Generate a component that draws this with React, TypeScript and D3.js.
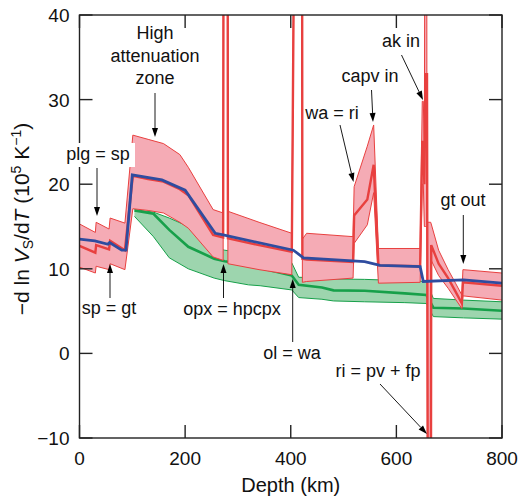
import React from 'react';
import * as d3 from 'd3';

const W = 531;
const H = 498;
const PL = 79.5, PR = 502, PT = 15, PB = 438;

// Red band (with phase-transition spikes): depth, upper, centre, lower
const redDepth  = [0, 30, 31.5, 56, 58, 86, 101, 130, 159, 190, 206, 253, 272, 273.5, 280, 281, 340, 402, 411, 421, 422, 430, 518, 520, 545, 557, 566, 645, 649, 651, 653, 655, 657, 658, 660, 665, 666, 680, 698, 712, 724, 726, 800];
const redUpper  = [15.3, 14.3, 15.5, 14.7, 16.0, 15.4, 25.8, 25.3, 24.8, 23.5, 22.0, 17.0, 16.6, 90, 90, 16.8, 15.5, 14.2, 90, 90, 13.5, 14.2, 13.8, 19.7, 24.5, 27.0, 12.4, 12.4, 29.8, 29.8, 24, 90, 90, 15.5, 15.5, 15.5, 15.3, 12.2, 9.9, 8.3, 6.9, 9.9, 9.5];
const redCenter = [12.7, 11.9, 12.8, 12.3, 13.3, 12.2, 21.0, 20.6, 20.3, 19.4, 18.7, 14.0, 13.7, 90, 90, 13.6, 12.8, 12.0, 90, 90, 11.2, 11.1, 10.8, 16.3, 18.2, 22.3, 10.4, 10.3, 25, 25, 20, 33, 33, 33, -40, -40, 12.8, 10.6, 8.9, 7.3, 5.9, 8.4, 8.0];
const redLower  = [10.2, 9.5, 10.3, 9.9, 10.6, 9.9, 17.1, 16.9, 16.6, 15.5, 14.8, 11.4, 11.0, 90, 90, 10.6, 9.9, 9.3, 90, 90, 8.4, 8.5, 8.9, 13.0, 15.2, 19.0, 8.3, 8.4, 20, 20, 15, 15, 15, 15, -40, -40, 11.0, 9.2, 7.7, 6.4, 5.3, 6.8, 6.3];

// Green band: depth, upper, centre, lower
const greenDepth  = [104, 140, 170, 206, 255, 275, 320, 342, 402, 415, 459, 481, 540, 616, 657, 670, 727, 800];
const greenUpper  = [17.0, 16.7, 16.0, 15.0, 12.5, 12.2, 11.8, 11.5, 10.7, 9.0, 8.9, 8.8, 8.75, 8.6, 8.5, 6.5, 6.3, 6.1];
const greenCenter = [16.9, 16.5, 14.6, 12.6, 11.2, 10.9, 10.45, 10.1, 9.2, 8.1, 7.8, 7.45, 7.4, 7.1, 6.9, 5.4, 5.3, 5.05];
const greenLower  = [16.2, 13.8, 11.3, 10.0, 8.9, 8.6, 8.1, 8.0, 7.5, 6.6, 6.4, 6.2, 6.1, 6.0, 5.9, 4.35, 4.2, 4.05];

// Blue line
const blueDepth = [0, 29, 54, 57, 80, 88, 100, 156, 200, 257, 272, 405, 424, 540, 569, 645, 651, 727, 800];
const blueValue = [13.5, 13.3, 12.9, 13.1, 12.2, 12.2, 21.1, 20.5, 19.3, 14.2, 14.0, 12.2, 11.3, 10.85, 10.4, 10.25, 8.5, 8.7, 8.3];

const xTicks = [0, 200, 400, 600, 800];
const yTicks = [-10, 0, 10, 20, 30, 40];

const RED = '#e8403f';
const PINK = '#f5abb5';
const BLUE = '#2f4c9f';
const GREEN = '#17a04a';
const GREENFILL = '#9dd5ae';
const FONT = 'Liberation Sans, Arial, Helvetica, sans-serif';

function Arrow({ x1, y1, x2, y2 }: { x1: number; y1: number; x2: number; y2: number }) {
  const ang = Math.atan2(y2 - y1, x2 - x1);
  const L = 9, Wd = 3;
  const bx = x2 - L * Math.cos(ang), by = y2 - L * Math.sin(ang);
  const px = -Math.sin(ang) * Wd, py = Math.cos(ang) * Wd;
  return (
    <g>
      <line x1={x1} y1={y1} x2={bx} y2={by} stroke="#000" strokeWidth={0.9} />
      <polygon points={`${x2},${y2} ${bx + px},${by + py} ${bx - px},${by - py}`} fill="#000" />
    </g>
  );
}

export default function App() {
  const x = d3.scaleLinear().domain([0, 800]).range([PL, PR]);
  const y = d3.scaleLinear().domain([-10, 40]).range([PB, PT]);

  const redIdx = redDepth.map((_, i) => i);
  const redArea = d3.area<number>().x(i => x(redDepth[i])).y0(i => y(redLower[i])).y1(i => y(redUpper[i]))(redIdx) || '';
  const redUp = d3.line<number>().x(i => x(redDepth[i])).y(i => y(redUpper[i]))(redIdx) || '';
  const redLo = d3.line<number>().x(i => x(redDepth[i])).y(i => y(redLower[i]))(redIdx) || '';
  const redMid = d3.line<number>().x(i => x(redDepth[i])).y(i => y(redCenter[i]))(redIdx) || '';

  const gIdx = greenDepth.map((_, i) => i);
  const gArea = d3.area<number>().x(i => x(greenDepth[i])).y0(i => y(greenLower[i])).y1(i => y(greenUpper[i]))(gIdx) || '';
  const gUp = d3.line<number>().x(i => x(greenDepth[i])).y(i => y(greenUpper[i]))(gIdx) || '';
  const gLo = d3.line<number>().x(i => x(greenDepth[i])).y(i => y(greenLower[i]))(gIdx) || '';
  const gMid = d3.line<number>().x(i => x(greenDepth[i])).y(i => y(greenCenter[i]))(gIdx) || '';

  const bIdx = blueDepth.map((_, i) => i);
  const bLine = d3.line<number>().x(i => x(blueDepth[i])).y(i => y(blueValue[i]))(bIdx) || '';

  const tl = 13;
  const ann = { fontFamily: FONT, fontSize: 18, fill: '#111' } as const;

  return (
    <svg width={W} height={H} style={{ position: 'absolute', left: 0, top: 0, background: '#fff' }}>
      <defs>
        <clipPath id="plot">
          <rect x={PL} y={PT} width={PR - PL} height={PB - PT} />
        </clipPath>
      </defs>
      <g clipPath="url(#plot)">
        <path d={gArea} fill={GREENFILL} />
        <path d={gUp} fill="none" stroke={GREEN} strokeWidth={1} />
        <path d={gLo} fill="none" stroke={GREEN} strokeWidth={1} />
        <path d={gMid} fill="none" stroke={GREEN} strokeWidth={2.6} />
        <path d={redArea} fill={PINK} />
        <path d={redUp} fill="none" stroke={RED} strokeWidth={1} />
        <path d={redLo} fill="none" stroke={RED} strokeWidth={1} />
        <path d={redMid} fill="none" stroke={RED} strokeWidth={2.4} />
        <path d={bLine} fill="none" stroke={BLUE} strokeWidth={2.8} />
      </g>

      {/* frame */}
      <rect x={PL} y={PT} width={PR - PL} height={PB - PT} fill="none" stroke="#222" strokeWidth={1.4} />
      {xTicks.map(t => (
        <g key={'x' + t}>
          <line x1={x(t)} x2={x(t)} y1={PB} y2={PB - tl} stroke="#222" strokeWidth={1.4} />
          <line x1={x(t)} x2={x(t)} y1={PT} y2={PT + tl} stroke="#222" strokeWidth={1.4} />
          <text x={x(t)} y={PB + 27} textAnchor="middle" fontFamily={FONT} fontSize={19} fill="#111">{t}</text>
        </g>
      ))}
      {yTicks.map(t => (
        <g key={'y' + t}>
          <line x1={PL} x2={PL + tl} y1={y(t)} y2={y(t)} stroke="#222" strokeWidth={1.4} />
          <line x1={PR} x2={PR - tl} y1={y(t)} y2={y(t)} stroke="#222" strokeWidth={1.4} />
          <text x={PL - 10} y={y(t) + 7} textAnchor="end" fontFamily={FONT} fontSize={19} fill="#111">{t < 0 ? '\u2212' + Math.abs(t) : t}</text>
        </g>
      ))}
      <text x={(PL + PR) / 2} y={492} textAnchor="middle" fontFamily={FONT} fontSize={20} fill="#111">Depth (km)</text>
      <text transform="translate(29,219) rotate(-90)" textAnchor="middle" fontFamily={FONT} fontSize={21} fill="#111">
        {'\u2212d ln '}<tspan fontStyle="italic">V</tspan><tspan fontSize={14} dy={4}>S</tspan><tspan dy={-4}>/d</tspan><tspan fontStyle="italic">T</tspan>{' (10'}<tspan fontSize={14} dy={-8}>5</tspan><tspan dy={8}>{' K'}</tspan><tspan fontSize={14} dy={-8}>{'\u22121'}</tspan><tspan dy={8}>)</tspan>
      </text>

      {/* annotations */}
      <rect x={65} y={143} width={70} height={24} fill="#fff" />
      <text x={98} y={160} textAnchor="middle" {...ann}>plg = sp</text>
      <Arrow x1={97} y1={168} x2={97} y2={216} />

      <text x={155} y={39} textAnchor="middle" {...ann}>High</text>
      <text x={155} y={62} textAnchor="middle" {...ann}>attenuation</text>
      <text x={155} y={84} textAnchor="middle" {...ann}>zone</text>
      <Arrow x1={155} y1={93} x2={155} y2={137} />

      <text x={109} y={314} textAnchor="middle" {...ann}>sp = gt</text>
      <Arrow x1={110} y1={298} x2={110} y2={264} />

      <text x={232} y={315} textAnchor="middle" {...ann}>opx = hpcpx</text>
      <Arrow x1={223.5} y1={298} x2={223.5} y2={264} />

      <text x={292} y={359} textAnchor="middle" {...ann}>ol = wa</text>
      <Arrow x1={292.7} y1={342} x2={292.7} y2={279} />

      <text x={378} y={377} textAnchor="middle" {...ann}>ri = pv + fp</text>
      <Arrow x1={380} y1={384} x2={427} y2={434} />

      <text x={332} y={119} textAnchor="middle" {...ann}>wa = ri</text>
      <Arrow x1={340} y1={125} x2={353.5} y2={182} />

      <text x={370} y={82} textAnchor="middle" {...ann}>capv in</text>
      <Arrow x1={371.5} y1={90} x2={373} y2={122} />

      <text x={401} y={47} textAnchor="middle" {...ann}>ak in</text>
      <Arrow x1={401.5} y1={55} x2={423} y2={100} />

      <text x={463} y={206} textAnchor="middle" {...ann}>gt out</text>
      <Arrow x1={463.3} y1={215} x2={463.3} y2={264} />
    </svg>
  );
}
